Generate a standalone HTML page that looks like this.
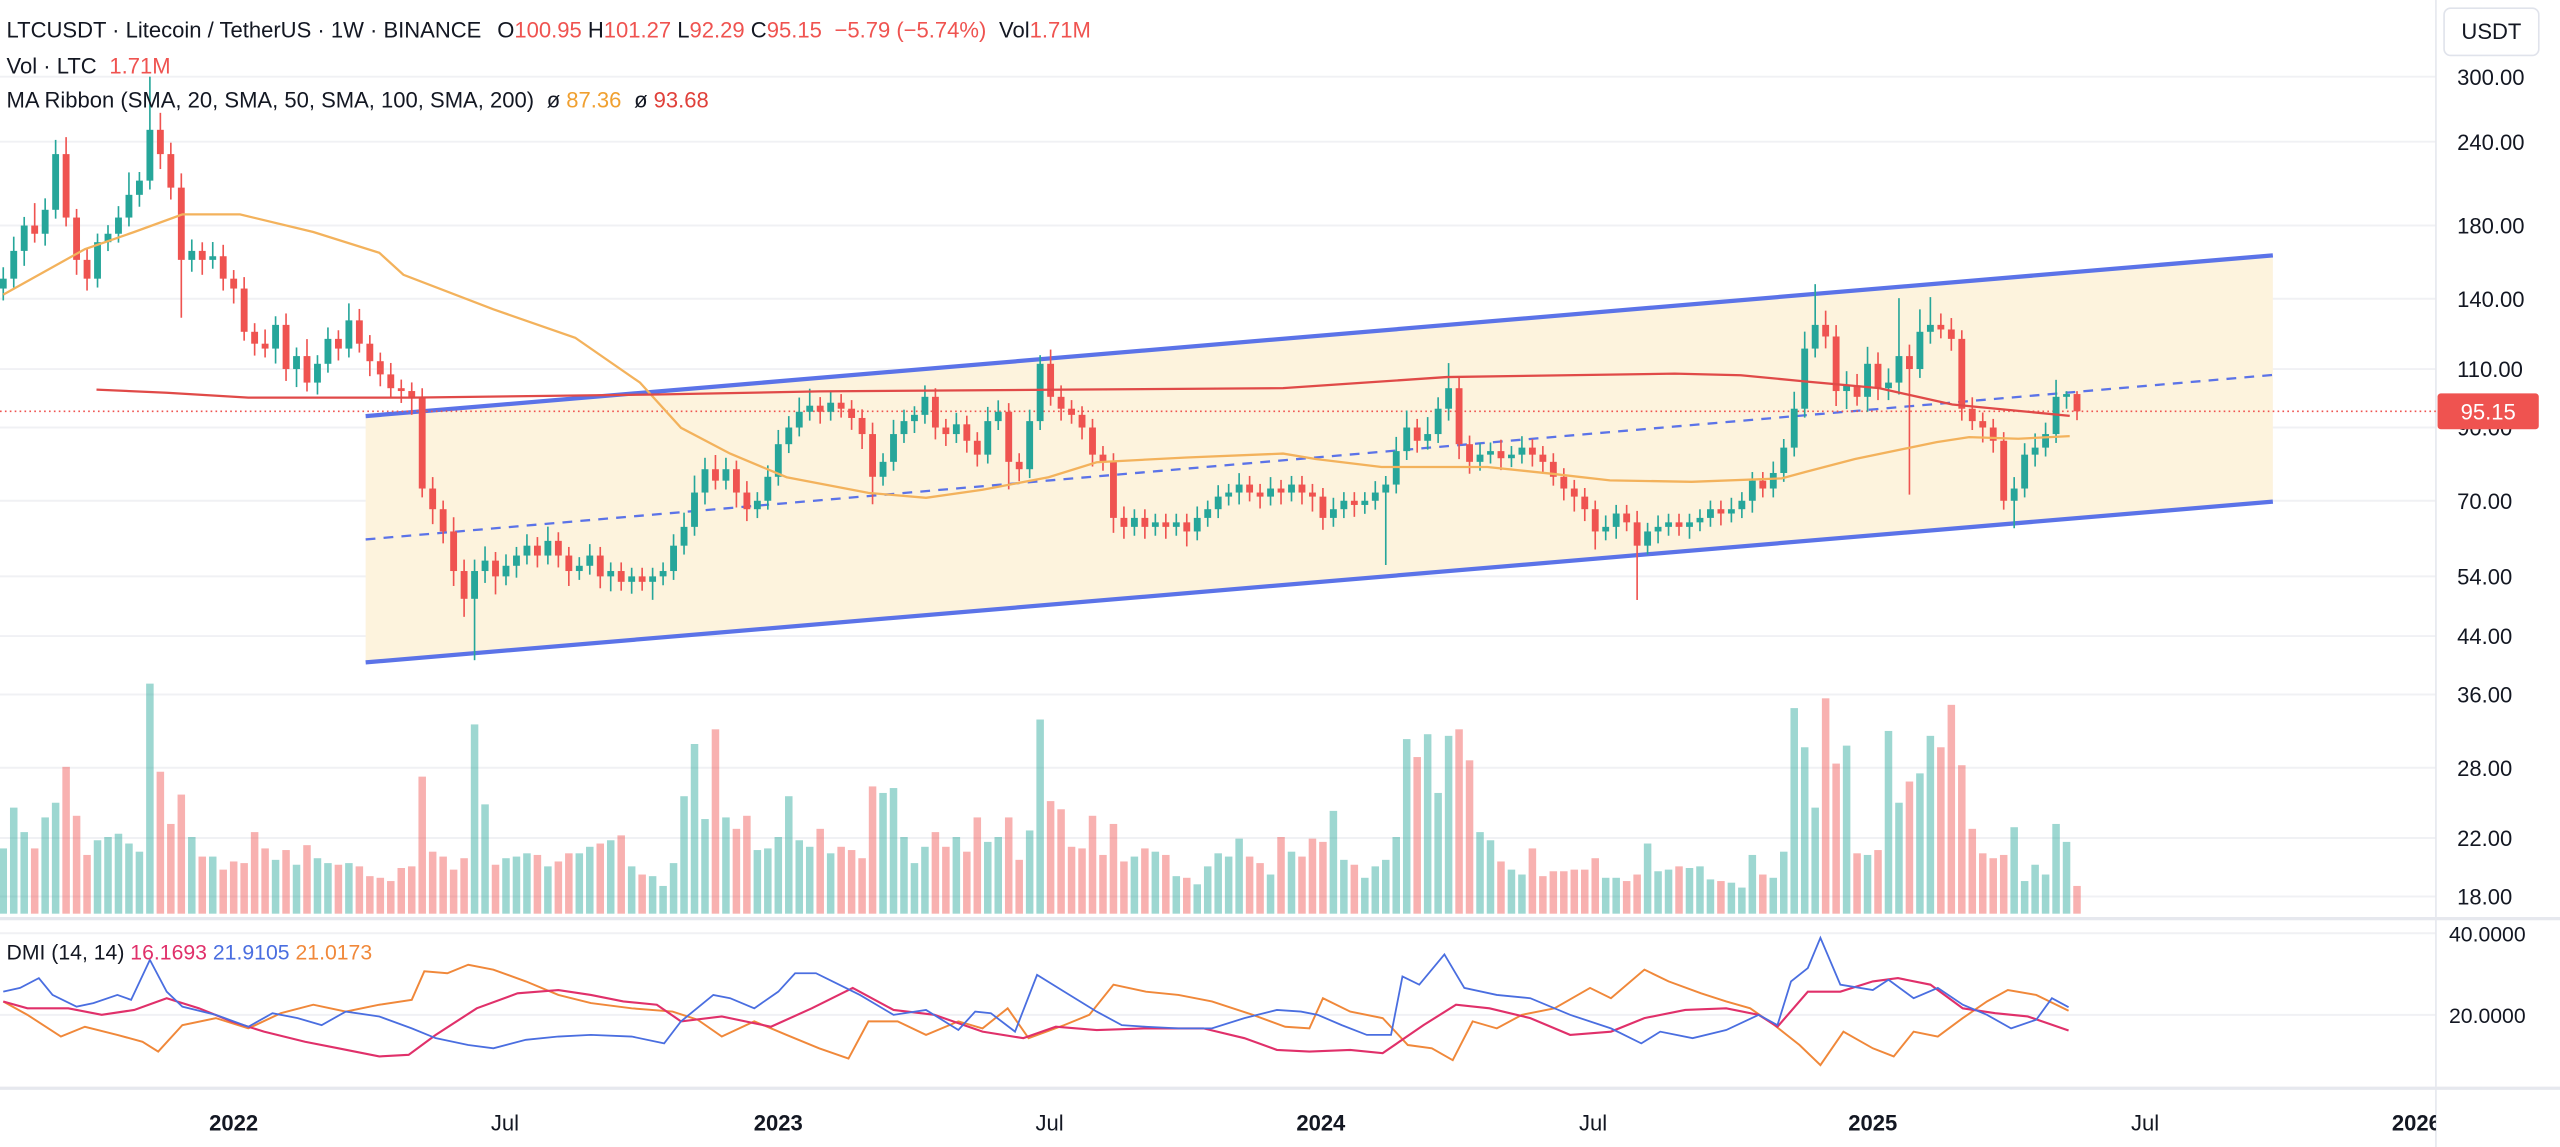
<!DOCTYPE html>
<html><head><meta charset="utf-8">
<style>
html,body{margin:0;padding:0;background:#fff;}
svg{display:block;font-family:"Liberation Sans",Arial,sans-serif;}
</style></head>
<body>
<svg id="chart" width="2560" height="1147" viewBox="0 0 1568 703" preserveAspectRatio="none" xmlns="http://www.w3.org/2000/svg">
<defs><clipPath id="plotclip"><rect x="0" y="0" width="1492" height="703"/></clipPath></defs>
<rect x="0" y="0" width="1568" height="703" fill="#fff"/>
<g id="grid"></g>
<g id="channel" clip-path="url(#plotclip)"></g>
<g id="volume"></g>
<g id="candles"></g>
<g id="mas"></g>
<g id="dmi"></g>
<g id="axes"></g>
<g id="header">
<text x="4" y="23" font-size="13.5" fill="#131722">LTCUSDT · Litecoin / TetherUS · 1W · BINANCE <tspan dx="6">O</tspan><tspan fill="#ef5350">100.95</tspan> <tspan>H</tspan><tspan fill="#ef5350">101.27</tspan> <tspan>L</tspan><tspan fill="#ef5350">92.29</tspan> <tspan>C</tspan><tspan fill="#ef5350">95.15</tspan> <tspan fill="#ef5350" dx="4">−5.79 (−5.74%)</tspan> <tspan dx="4">Vol</tspan><tspan fill="#ef5350">1.71M</tspan></text>
<text x="4" y="45" font-size="13.5" fill="#131722">Vol · LTC <tspan fill="#ef5350" dx="4">1.71M</tspan></text>
<text x="4" y="66" font-size="13.5" fill="#131722">MA Ribbon (SMA, 20, SMA, 50, SMA, 100, SMA, 200) <tspan dx="4">ø</tspan> <tspan fill="#f0a030">87.36</tspan> <tspan dx="4">ø</tspan> <tspan fill="#e0403a">93.68</tspan></text>
<text x="4" y="588" font-size="13" fill="#131722">DMI (14, 14) <tspan fill="#e0306a">16.1693</tspan> <tspan fill="#4a6ee0">21.9105</tspan> <tspan fill="#f0883a">21.0173</tspan></text>
</g>
<g>
<rect x="1497" y="5" width="58" height="29" rx="4" fill="#fff" stroke="#e0e3eb"/>
<text x="1526" y="24" font-size="13.5" text-anchor="middle" fill="#131722">USDT</text>
</g>
</svg>
<script>
// ---- data ----
const closes=[150,165,180,175,190,230,185,160,150,170,
175,185,200,210,250,230,205,160,165,160,
162,150,145,125,120,118,128,110,115,105,
112,122,118,130,120,113,108,103,102,100,
73,68,63,55,50,55,57,54,56,58,
60,58,61,58,55,56,58,54,55,53,
54,53,54,55,60,64,72,78,75,78,
72,68,70,76,85,90,95,97,95,98,
96,93,88,76,80,88,92,94,100,90,
88,91,86,82,92,95,80,78,92,112,
100,96,94,90,82,80,66,64,66,64,
65,64,65,63,66,68,71,72,74,72,
71,73,72,74,72,71,66,68,70,69,
70,72,74,83,90,86,88,96,103,85,
80,82,83,81,82,84,82,80,76,73,
71,68,63,64,67,65,60,63,64,65,
64,65,66,68,67,68,70,75,73,77,
84,96,118,128,123,102,104,100,112,103,
105,115,110,125,128,126,122,96,92,90,
86,70,73,82,84,88,100,100.95,95.15];
const firstOpen=145;
const wickUp=[4,5,3,8,4,5,6,3,4,3, 3,4,8,3,20,6,4,5,4,3, 5,4,3,4,3,5,3,4,3,6, 3,4,3,6,4,3,3,4,3,3,
3,4,3,5,4,4,5,3,4,3, 4,3,5,3,3,3,4,3,3,3, 3,3,3,3,4,5,6,4,5,4, 3,4,3,4,5,4,5,6,3,4,
3,3,3,4,3,5,4,3,4,3, 3,4,3,3,5,4,3,3,4,3, 5,4,3,3,3,3,3,4,3,3, 3,3,3,3,4,3,4,3,4,3,
3,4,3,3,3,3,3,4,3,3, 3,4,3,5,6,3,6,4,9,4, 3,4,3,4,3,4,3,3,3,3, 3,3,3,4,3,3,4,3,4,3,
3,3,3,3,3,4,3,3,3,4, 3,6,6,15,5,4,5,4,6,4, 5,22,4,8,10,4,4,3,4,3, 3,3,4,4,5,4,6,1,1];
const wickDn=[4,3,5,3,4,3,3,5,4,3, 3,3,3,4,3,5,4,18,4,5, 3,4,5,3,4,3,5,4,6,3, 4,3,4,3,3,5,4,3,4,6,
3,5,4,5,6,19,4,6,3,4, 3,4,3,4,5,3,3,4,5,3, 4,3,6,3,3,3,3,4,3,3, 5,4,3,3,3,3,3,3,4,3,
3,4,5,9,3,3,3,4,3,4, 4,3,4,4,3,3,9,4,3,3, 3,4,3,4,4,3,5,4,3,4, 3,4,3,5,3,3,3,3,4,3,
4,3,4,3,4,5,4,3,3,4, 3,3,22,3,3,4,3,3,4,5, 4,3,3,4,3,3,4,4,3,4, 5,4,6,3,4,3,17,3,4,3,
3,4,3,3,4,3,3,4,3,3, 3,3,3,3,4,5,6,3,5,4, 4,4,35,3,4,3,4,4,3,5, 4,3,9,3,4,3,3,4,3];
const volumes=[40,65,50,40,59,68,90,60,36,45,47,49,43,38,141,87,55,73,47,35,35,27,32,31,50,40,33,39,30,42,34,31,30,31,29,23,22,20,28,29,84,38,35,27,34,116,67,30,34,35,37,36,29,32,37,37,41,43,45,48,29,24,23,17,31,72,104,58,113,59,52,60,39,40,47,72,45,41,52,37,41,39,34,78,74,77,47,31,41,50,41,47,38,59,44,47,59,33,51,119,69,64,41,40,60,36,55,32,35,40,38,36,23,22,18,29,37,35,46,35,31,24,47,38,35,46,44,63,33,30,22,29,33,47,107,96,110,74,109,113,94,50,45,32,27,24,40,23,26,26,27,27,34,22,22,20,24,43,26,27,29,28,29,21,20,19,16,36,24,22,38,126,102,65,132,92,103,37,36,39,112,68,81,86,109,102,128,91,52,37,34,36,53,20,30,24,55,44,17];
const ma50Weeks=[0,7.8,12.5,17.1,22.6,29.6,35.9,38.2,46.8,54.6,60.8,64.7,69.4,74.8,82.6,88.1,93.5,99.8,104.4,113,122.2,125.3,131.6,141.7,147.9,153.4,161.2,169.8,172.1,176.8,184.6,187.7,192.4,197.3];
const ma50Values=[142,166,176,187,187,176,164,152,135,122.5,105,89.9,82.3,75.9,71.9,70.7,72.7,75.9,79.9,81.2,82.3,80.8,78.6,78.6,76.8,75.1,74.7,75.6,77.3,80.8,85.6,87.1,86.6,87.36];
const ma200Weeks=[8.9,15.6,23.4,39,62.4,77.9,101.3,122.2,137.8,159.6,165.9,172.1,179.1,186.1,192.4,197.3];
const ma200Values=[102.5,101.4,99.7,99.7,100.8,101.9,102.5,103,107,108.3,107.7,105.4,103,97.4,95.3,93.68];
const chanWeeks=[34.6,216.7];
const chanUpper=[93.6,162.5];
const chanLower=[40.2,69.8];
const chanMid=[61.3,107.8];
const plusWeeks=[0,1.6,3.4,4.7,7,8.6,10.9,12.2,14,15.6,17.1,20.3,23.4,25.7,28.1,30.4,32.7,35.9,39,41.3,44.4,46.8,49.9,53,56.1,60,63.1,64.7,67.8,69.4,71.7,74,75.6,77.6,79.5,81.8,85,88.1,91.2,92.8,94.3,96.6,98.7,101.3,104.4,106.8,109.1,112.2,115.4,118.5,121.6,123.9,125.5,127.8,130.2,132.5,133.6,135.2,137.6,139.5,142.6,145.8,149.6,153.5,156.4,158.2,161.3,164.5,167.6,169.4,170.7,172.3,173.5,175.4,178.5,180,182.4,184.7,187.1,189.4,191.7,194.1,195.6,197.2];
const plusDI=[25.7,26.6,29,24.9,22,22.9,24.9,23.7,33.5,25.7,22,20,17.1,20.4,19.2,17.5,20.8,19.6,16.7,14.3,12.6,11.8,13.9,14.7,15.1,14.7,13,18.4,24.9,24.1,21.6,25.7,30.2,30.2,27.8,24.9,20,21.2,16.3,20.8,20.4,15.9,29.8,25.7,20.8,17.5,17.1,16.7,16.7,19.2,21.2,20.8,20,17.5,15.1,15.1,29.4,27.4,34.8,26.6,24.9,24.1,20,16.7,13,15.9,14.3,16.3,20,17.5,28.2,31.5,38.9,27.4,26.1,28.6,24.1,26.6,22.5,20,16.7,18.8,24.1,21.9];
const pinkWeeks=[0,2.3,6.2,9.4,12.5,15.6,18.7,21.8,24.9,28.8,32,35.9,38.7,41.3,45.2,49.1,53,56.1,59.2,62.4,64.7,68.6,73.3,77.2,81.1,85,88.9,93.5,97.4,100.5,104.4,109.1,114.6,118.5,121.6,124.7,128.6,131.7,135.6,138.7,141.9,145.8,149.6,153.5,156.7,160.6,164.5,167.6,169.4,172.3,175.4,178.5,180.9,184,187.1,190.2,193.3,197.2];
const pinkDI=[23.3,21.6,21.6,20,21.2,24.1,21.6,18.4,15.9,13.4,11.8,9.8,10.2,15.1,21.6,25.3,26.1,24.9,23.3,22.5,18.4,19.6,17.1,21.6,26.6,21.2,20,15.9,14.3,17.1,16.3,16.7,16.7,14.3,11.4,11,11.4,10.6,17.5,22.5,21.6,19.2,15.1,15.9,19.2,21.2,21.6,20,17.1,25.7,25.7,28.2,29,27.4,21.6,20.4,19.6,16.17];
const orangeWeeks=[0,2.3,5.5,7.8,10.9,13.3,14.8,17.1,20.3,23.4,26.5,29.6,32.7,35.9,39,40.2,42.4,44.4,46.8,49.9,53,56.1,60,63.9,66.3,68.6,71.7,74.8,77.9,80.7,82.6,85.4,88.1,91.2,93.5,95.9,97.9,101.3,103.7,106,109.1,112.2,115.4,119.3,122.4,124.7,126,128.6,131.7,134.1,136.4,138.4,140.3,142.6,145,148.1,151.5,153.5,156.7,159,162.1,164.5,166.8,169.1,171.5,173.5,175.7,178.5,180.5,182.4,184.7,187.1,189.4,191.4,194.1,197.2];
const orangeDI=[23.3,20,14.7,17.1,15.1,13.4,11,17.5,19.2,16.7,20.4,22.5,20.8,22.5,23.7,30.7,30.2,32.3,31.1,28.2,24.9,22.9,21.6,20.8,18.8,14.7,18.4,15.1,11.8,9.3,18.4,18.4,15.1,18.4,16.7,21.6,14.3,17.5,20,27.4,25.7,24.9,23.3,20,17.1,16.7,24.1,20.8,19.2,12.6,11.8,8.9,18.4,16.7,20,21.6,26.6,24.1,31.1,28.2,25.3,23.3,21.6,17.5,12.6,7.7,15.9,11.8,9.8,15.9,14.7,19.2,23.3,26.1,24.9,21.0];
const priceTicks=[300,240,180,140,110,90,70,54,44,36,28,22,18];
const priceTickLabels=["300.00","240.00","180.00","140.00","110.00","90.00","70.00","54.00","44.00","36.00","28.00","22.00","18.00"];
const dmiTicks=[40,20];
const dmiTickLabels=["40.0000","20.0000"];
const timeWeeks=[22,47.9,74,99.9,125.8,151.8,178.5,204.5,230.4];
const timeLabels=["2022","Jul","2023","Jul","2024","Jul","2025","Jul","2026"];
const lastPrice=95.15;

// ---- scales ----
const NS="http://www.w3.org/2000/svg";
const X=w=>w*6.415+2;
const Y=p=>47+(Math.log(300)-Math.log(p))*178.6;
const VY=v=>560-v;
const DY=v=>622-(v-20)*2.5;
function mk(tag,attrs,parent){const e=document.createElementNS(NS,tag);for(const k in attrs)e.setAttribute(k,attrs[k]);parent.appendChild(e);return e;}
const G=id=>document.getElementById(id);

// grid + axis
const grid=G('grid'),axes=G('axes');
priceTicks.forEach((p,i)=>{
  const l=mk('line',{x1:0,x2:1492,y1:Y(p),y2:Y(p),stroke:'#f0f1f4','stroke-width':1.2},grid);
  
  
  const t=mk('text',{x:1505,y:Y(p)+5,'font-size':13.5,fill:'#131722'},axes);
  t.textContent=priceTickLabels[i];
  
  
});
dmiTicks.forEach((v,i)=>{
  const l=mk('line',{x1:0,x2:1492,y1:DY(v),y2:DY(v),stroke:'#f0f1f4','stroke-width':1.2},grid);
  
  
  const t=mk('text',{x:1500,y:DY(v)+5,'font-size':13,fill:'#131722'},axes);
  t.textContent=dmiTickLabels[i];
  
  
});
mk('line',{x1:0,x2:1568,y1:563,y2:563,stroke:'#e6e8ee','stroke-width':2},grid);
mk('line',{x1:0,x2:1568,y1:667,y2:667,stroke:'#e6e8ee','stroke-width':2},grid);
mk('line',{x1:1492,x2:1492,y1:0,y2:703,stroke:'#e6e8ee','stroke-width':1},grid);
timeWeeks.forEach((w,i)=>{
  const t=mk('text',{x:X(w),y:693,'font-size':13.5,'text-anchor':'middle',fill:'#131722','font-weight':/^\d/.test(timeLabels[i])?'bold':'normal','clip-path':'url(#plotclip)'},axes);
  t.textContent=timeLabels[i];
  
  
});

// channel
const ch=G('channel');
const poly=`${X(chanWeeks[0])},${Y(chanUpper[0])} ${X(chanWeeks[1])},${Y(chanUpper[1])} ${X(chanWeeks[1])},${Y(chanLower[1])} ${X(chanWeeks[0])},${Y(chanLower[0])}`;
const cf=mk('polygon',{points:poly,fill:'#fdf3dd'},ch);


[[chanUpper,'channel-upper-line',''],[chanLower,'channel-lower-line',''],[chanMid,'channel-mid-line','6,5']].forEach(([arr,nm,dash])=>{
  const l=mk('line',{x1:X(chanWeeks[0]),y1:Y(arr[0]),x2:X(chanWeeks[1]),y2:Y(arr[1]),stroke:'#5b73e8','stroke-width':dash?1.4:2.6},ch);
  if(dash)l.setAttribute('stroke-dasharray',dash);
  
  
});
// last price line
const lp=mk('line',{x1:0,x2:1492,y1:Y(lastPrice),y2:Y(lastPrice),stroke:'#ef5350','stroke-width':1,'stroke-dasharray':'1,2'},ch);



// candles + volume
const cg=G('candles'),vg=G('volume');
closes.forEach((c,i)=>{
  const o=i===0?firstOpen:closes[i-1];
  const up=c>=o;
  const col=up?'#26a69a':'#ef5350';
  const hi=Math.max(o,c)*(1+wickUp[i]/100), lo=Math.min(o,c)*(1-wickDn[i]/100);
  const x=X(i);
  const w=mk('line',{x1:x,x2:x,y1:Y(hi),y2:Y(lo),stroke:col,'stroke-width':1},cg);
  
  
  const yt=Y(Math.max(o,c)),yb=Y(Math.min(o,c));
  const b=mk('rect',{x:x-2.1,y:yt,width:4.2,height:Math.max(1,yb-yt),fill:col},cg);
  
  
});
volumes.forEach((v,i)=>{
  const o=i===0?firstOpen:closes[i-1];
  const up=i<closes.length?closes[i]>=o:true;
  const r=mk('rect',{x:X(i)-2.3,y:VY(v),width:4.6,height:v,fill:up?'rgba(38,166,154,0.45)':'rgba(239,83,80,0.45)'},vg);
  
  
});

// MAs
const mg=G('mas');
function pathOf(ws,vs,fy){return ws.map((w,i)=>(i?'L':'M')+X(w).toFixed(1)+','+fy(vs[i]).toFixed(1)).join(' ');}
const m50=mk('path',{d:pathOf(ma50Weeks,ma50Values,Y),fill:'none',stroke:'#f3b25c','stroke-width':1.4},mg);


const m200=mk('path',{d:pathOf(ma200Weeks,ma200Values,Y),fill:'none',stroke:'#e04a48','stroke-width':1.4},mg);



// DMI
const dg=G('dmi');
const d1=mk('path',{d:pathOf(orangeWeeks,orangeDI,DY),fill:'none',stroke:'#f0883a','stroke-width':1.2},dg);


const d2=mk('path',{d:pathOf(pinkWeeks,pinkDI,DY),fill:'none',stroke:'#e0306a','stroke-width':1.3},dg);


const d3=mk('path',{d:pathOf(plusWeeks,plusDI,DY),fill:'none',stroke:'#4a6ee0','stroke-width':1.1},dg);



// last price label
const lb=mk('rect',{x:1493,y:Y(lastPrice)-11,width:62,height:22,fill:'#ef5350',rx:2},axes);


const lt=mk('text',{x:1524,y:Y(lastPrice)+5,'font-size':13.5,'text-anchor':'middle',fill:'#fff'},axes);
lt.textContent=lastPrice.toFixed(2);


</script>
</body></html>
